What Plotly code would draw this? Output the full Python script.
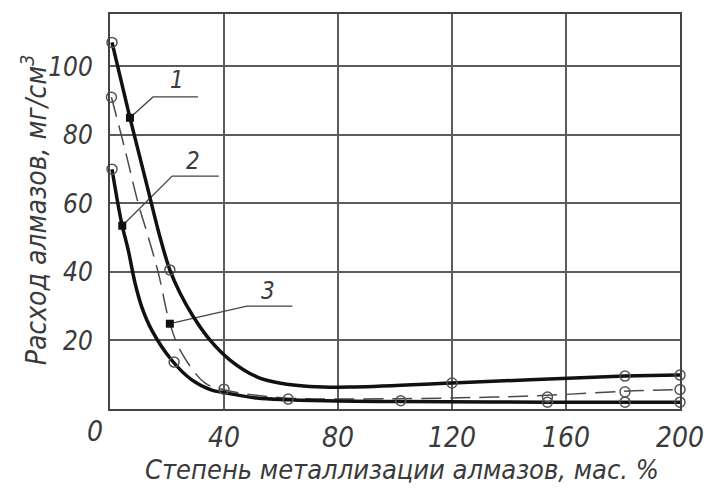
import plotly.graph_objects as go

# ---- data ----
x_ticks = [40, 80, 120, 160, 200]
x_tick_text = ["40", "80", "120", "160", "200"]
y_ticks = [20, 40, 60, 80, 100]
y_tick_text = ["20", "40", "60", "80", "100"]

# traced curves
c1_x = [0.7, 7, 12.9, 17.5, 21, 24.6, 29.2, 35.1, 42.1, 51.5, 60, 70, 84, 120, 180.7, 200]
c1_y = [107, 85, 65.5, 50.3, 40.6, 33.8, 27.0, 20.1, 14.3, 9.4, 7.5, 6.6, 6.4, 7.6, 9.6, 9.9]

c2_x = [0.7, 4.1, 6.4, 8.8, 11.1, 14.6, 21.6, 28.7, 35.7, 40, 51.5, 62.5, 80, 102, 153.5, 200]
c2_y = [70, 54.2, 46.4, 36.7, 29.9, 23.1, 14.3, 8.5, 5.5, 4.8, 3.2, 2.7, 2.3, 2.2, 2.0, 2.0]

c3_x = [0.5, 5.3, 9.9, 13.4, 17, 21, 25.2, 33.3, 40, 60, 100, 135, 153.5, 180.7, 200]
c3_y = [91, 75.6, 60, 50.3, 39.6, 25.0, 16.3, 7.6, 5.6, 3.3, 3.0, 3.5, 4.0, 5.2, 5.7]

# experimental points (open circles)
p1_x = [0.7, 21, 120, 180.7, 200]
p1_y = [107, 40.6, 7.6, 9.6, 9.9]
p2_x = [0.7, 22.5, 62.5, 102, 153.5, 180.7, 200]
p2_y = [70, 13.7, 2.9, 2.4, 2.0, 2.0, 2.0]
p3_x = [0.5, 40, 153.5, 180.7, 200]
p3_y = [91, 5.8, 3.5, 5.0, 5.7]

# curve label anchors (filled squares) and leader lines
curve_labels = ["1", "2", "3"]
sq_x = [7, 4.3, 21]
sq_y = [85, 53.5, 24.9]
leader_x = [[7, 15.1, 30.9], [4.3, 21.8, 38.2], [21, 48, 64]]
leader_y = [[85, 91.1, 91.1], [53.5, 68, 68], [24.9, 30, 30]]
label_x = [23.5, 29, 55.4]
label_y = [96, 72.5, 34.5]

x_title = "Степень металлизации алмазов, мас. %"
y_title = "Расход алмазов, мг/см<sup>3</sup>"

FONT = "Liberation Sans Narrow, DejaVu Sans Condensed, Arial Narrow, sans-serif"
TXT = "#3a3a3a"

fig = go.Figure()

# leader lines
for lx, ly in zip(leader_x, leader_y):
    fig.add_trace(go.Scatter(x=lx, y=ly, mode="lines",
                             line=dict(color="#444", width=1.3),
                             hoverinfo="skip", showlegend=False))

# curves
fig.add_trace(go.Scatter(x=c3_x, y=c3_y, mode="lines", line_shape="spline",
                         line=dict(color="#4a4a4a", width=1.5, dash="20px,9px"),
                         showlegend=False))
fig.add_trace(go.Scatter(x=c1_x, y=c1_y, mode="lines", line_shape="spline",
                         line=dict(color="#111", width=3.5), showlegend=False))
fig.add_trace(go.Scatter(x=c2_x, y=c2_y, mode="lines", line_shape="spline",
                         line=dict(color="#111", width=3.5), showlegend=False))

# open circle points
for px, py in [(p1_x, p1_y), (p2_x, p2_y), (p3_x, p3_y)]:
    fig.add_trace(go.Scatter(x=px, y=py, mode="markers", cliponaxis=False,
                             marker=dict(symbol="circle-open", size=10,
                                         color="#555", line=dict(width=1.5)),
                             showlegend=False))

# filled squares
fig.add_trace(go.Scatter(x=sq_x, y=sq_y, mode="markers", cliponaxis=False,
                         marker=dict(symbol="square", size=8, color="#111"),
                         showlegend=False))

annotations = []
for t, ax_, ay_ in zip(curve_labels, label_x, label_y):
    annotations.append(dict(x=ax_, y=ay_, xref="x", yref="y", text=t,
                            showarrow=False,
                            font=dict(family=FONT, size=24, color=TXT, style="italic")))
# origin label
annotations.append(dict(x=0, y=0, xref="x", yref="y", text="0", showarrow=False,
                        xshift=-15, yshift=-22,
                        font=dict(family=FONT, size=28, color=TXT, style="italic")))
# axis titles
annotations.append(dict(x=0.512, y=-0.152, xref="paper", yref="paper", text=x_title,
                        showarrow=False, xanchor="center", yanchor="middle",
                        font=dict(family=FONT, size=27, color=TXT, style="italic")))
annotations.append(dict(x=-0.132, y=0.505, xref="paper", yref="paper", text=y_title,
                        showarrow=False, textangle=-90, xanchor="center", yanchor="middle",
                        font=dict(family=FONT, size=28, color=TXT, style="italic")))

fig.update_layout(
    width=715, height=488,
    margin=dict(l=110, r=35, t=14, b=79),
    paper_bgcolor="white", plot_bgcolor="white",
    annotations=annotations,
    xaxis=dict(range=[0, 200], tickvals=x_ticks, ticktext=x_tick_text,
               showgrid=True, gridcolor="#5c5c5c", gridwidth=2,
               showline=True, mirror=True, linecolor="#444", linewidth=2,
               zeroline=False, ticks="", ticklabelstandoff=2,
               tickfont=dict(family=FONT, size=28, color=TXT, style="italic")),
    yaxis=dict(range=[0, 115.3], tickvals=y_ticks, ticktext=y_tick_text,
               showgrid=True, gridcolor="#5c5c5c", gridwidth=2,
               showline=True, mirror=True, linecolor="#444", linewidth=2,
               zeroline=False, ticks="", ticklabelstandoff=10,
               tickfont=dict(family=FONT, size=26, color=TXT, style="italic")),
)

fig.write_html("out.html")
